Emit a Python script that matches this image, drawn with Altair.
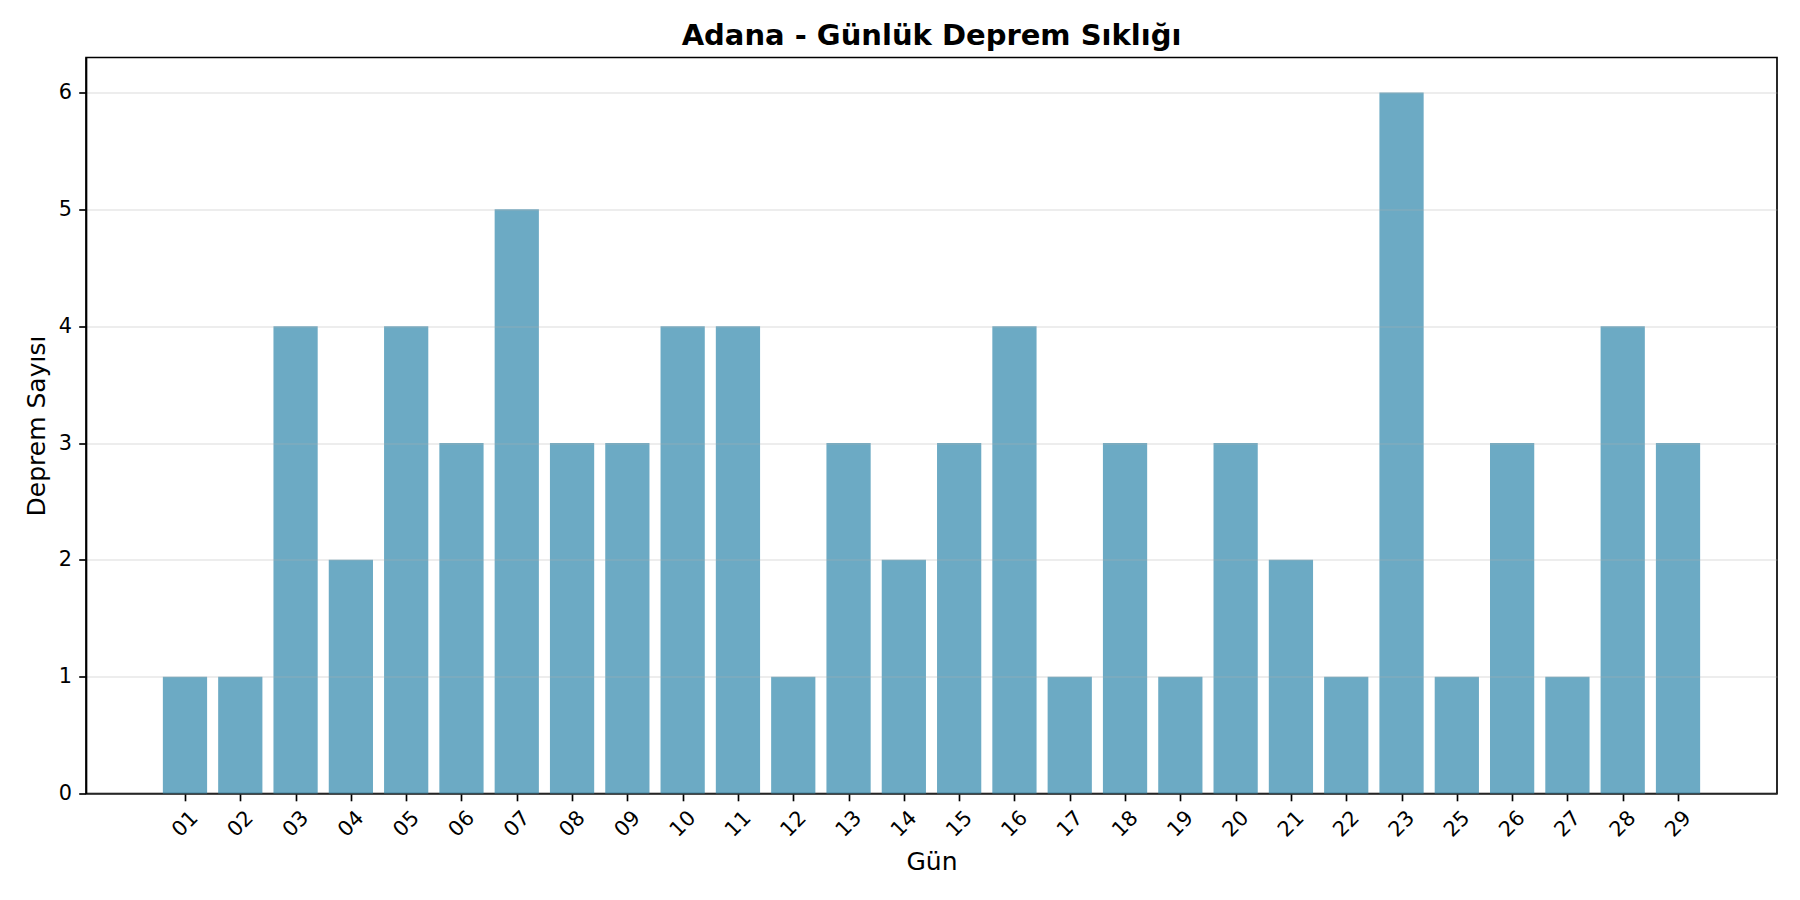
import altair as alt
import pandas as pd

days = ["01", "02", "03", "04", "05", "06", "07", "08", "09", "10",
        "11", "12", "13", "14", "15", "16", "17", "18", "19", "20",
        "21", "22", "23", "25", "26", "27", "28", "29"]
counts = [1, 1, 4, 2, 4, 3, 5, 3, 3, 4,
          4, 1, 3, 2, 3, 4, 1, 3, 1, 3,
          2, 1, 6, 1, 3, 1, 4, 3]
y_ticks = [0, 1, 2, 3, 4, 5, 6]

df = pd.DataFrame({"day": days, "count": counts, "idx": list(range(len(days)))})

n = len(days)
span = (n - 1) + 0.8
x_lo = -0.4 - 0.05 * span
x_hi = (n - 1) + 0.4 + 0.05 * span
y_hi = max(counts) * 1.05

label_array = "[" + ",".join(f"'{d}'" for d in days) + "]"

bars = (
    alt.Chart(df)
    .transform_calculate(x0="datum.idx - 0.4", x1="datum.idx + 0.4")
    .mark_bar(color="#2E86AB", opacity=0.7)
    .encode(
        x=alt.X(
            "x0:Q",
            scale=alt.Scale(domain=[x_lo, x_hi], nice=False, zero=False),
            axis=alt.Axis(
                title="Gün",
                values=list(range(n)),
                labelExpr=label_array + "[datum.value]",
                grid=False,
                labelAngle=315,
                labelAlign="center",
                labelBaseline="middle",
                labelPadding=23,
                titleBaseline="alphabetic",
                titleY=75.5,
            ),
        ),
        x2="x1:Q",
        y=alt.Y(
            "count:Q",
            scale=alt.Scale(domain=[0, y_hi], nice=False),
            axis=alt.Axis(
                title="Deprem Sayısı",
                values=y_ticks,
                grid=True,
                gridColor="#b0b0b0",
                gridOpacity=0.3,
                gridWidth=1.67,
                labelPadding=7.3,
                titleAngle=270,
                titleBaseline="alphabetic",
                titleX=-42,
                titleY=368,
                zindex=1,
            ),
        ),
        y2=alt.datum(0),
        tooltip=["day:N", "count:Q"],
    )
)

chart = (
    bars.properties(
        width=1691,
        height=736,
        background="white",
        title=alt.TitleParams(
            "Adana - Günlük Deprem Sıklığı",
            font="DejaVu Sans",
            fontSize=29,
            fontWeight="bold",
            color="black",
            anchor="middle",
            offset=6.5,
        ),
        autosize=alt.AutoSizeParams(type="none"),
        padding={"left": 78, "top": 49.5, "right": 15, "bottom": 98},
    )
    .configure_view(stroke="black", strokeWidth=1.67)
    .configure_axis(
        labelFont="DejaVu Sans",
        labelFontSize=20.8,
        labelColor="black",
        titleFont="DejaVu Sans",
        titleFontSize=25,
        titleFontWeight="normal",
        titleColor="black",
        tickColor="black",
        tickSize=7.3,
        tickWidth=1.67,
        domainColor="black",
        domainWidth=1.67,
    )
)

chart.save("out.html", embed_options={"renderer": "svg", "actions": False})
